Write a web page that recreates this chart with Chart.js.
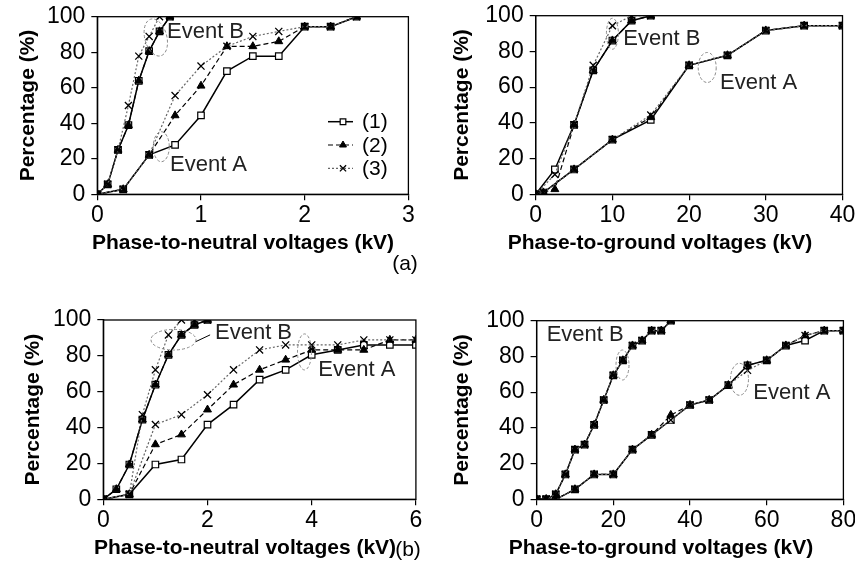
<!DOCTYPE html>
<html>
<head>
<meta charset="UTF-8">
<title>Percentage vs voltages</title>
<script src="https://cdn.jsdelivr.net/npm/chart.js"></script>
<style>
  body { margin: 0; background: #fff; }
  #wrap { position: relative; width: 855px; height: 584px; overflow: hidden;
          font-family: "Liberation Sans", Arial, sans-serif; }
  canvas { position: absolute; left: 0; top: 0; }
  .tag { position: absolute; font-size: 21px; transform: translate(-50%, -50%); }
</style>
</head>
<body>
<div id="wrap">
  <canvas id="pA1" width="855" height="584"></canvas>
  <canvas id="pA2" width="855" height="584"></canvas>
  <canvas id="pB1" width="855" height="584"></canvas>
  <canvas id="pB2" width="855" height="584"></canvas>
  <div class="tag" style="left:405px; top:263px">(a)</div>
  <div class="tag" style="left:408px; top:549px">(b)</div>
</div>

<script>
  // ---- (a) phase-to-neutral ----
  const a1EvB_x = [0, 0.1, 0.2, 0.3, 0.4, 0.5, 0.6, 0.7];
  const a1EvB_1 = [0, 5.6, 25, 38.9, 63.9, 80.6, 91.7, 100];
  const a1EvB_2 = [0, 5.6, 25, 38.9, 63.9, 80.6, 91.7, 100];
  const a1EvB_3 = [0, 5.6, 25, 50, 77.8, 88.9, 100, 100];
  const a1EvA_x = [0, 0.25, 0.5, 0.75, 1, 1.25, 1.5, 1.75, 2, 2.25, 2.5];
  const a1EvA_1 = [0, 2.8, 22.2, 27.8, 44.4, 69.4, 77.8, 77.8, 94.4, 94.4, 100];
  const a1EvA_2 = [0, 2.8, 22.2, 44.4, 61.1, 83.3, 83.3, 86.1, 94.4, 94.4, 100];
  const a1EvA_3 = [0, 2.8, 22.2, 55.6, 72.2, 83.3, 88.9, 91.7, 94.4, 94.4, 100];

  // ---- (a) phase-to-ground ----
  const a2EvB_x = [0, 2.5, 5, 7.5, 10, 12.5, 15];
  const a2EvB_1 = [0, 13.9, 38.9, 69.4, 86.1, 97.2, 100];
  const a2EvB_2 = [0, 2.8, 38.9, 69.4, 86.1, 97.2, 100];
  const a2EvB_3 = [0, 11.1, 38.9, 72.2, 94.4, 100, 100];
  const a2EvA_x = [0, 1, 5, 10, 15, 20, 25, 30, 35, 40];
  const a2EvA_1 = [0, 1, 13.9, 30.6, 41.7, 72.2, 77.8, 91.7, 94.4, 94.4];
  const a2EvA_2 = [0, 1, 13.9, 30.6, 43.1, 72.2, 77.8, 91.7, 94.4, 94.4];
  const a2EvA_3 = [0, 1, 13.9, 30.6, 44.4, 72.2, 77.8, 91.7, 94.4, 94.4];

  // ---- (b) phase-to-neutral ----
  const b1EvB_x = [0, 0.25, 0.5, 0.75, 1, 1.25, 1.5, 1.75, 2];
  const b1EvB_1 = [0, 5.6, 19.4, 44.4, 63.9, 80.6, 91.7, 97.2, 100];
  const b1EvB_2 = [0, 5.6, 19.4, 44.4, 63.9, 80.6, 91.7, 97.2, 100];
  const b1EvB3_x = [0, 0.5, 0.75, 1, 1.25, 1.5, 1.75, 2];
  const b1EvB_3 = [0, 2.8, 47.2, 72.2, 91.7, 100, 100, 100];
  const b1EvA_x = [0, 0.5, 1, 1.5, 2, 2.5, 3, 3.5, 4, 4.5, 5, 5.5, 6];
  const b1EvA_1 = [0, 2.8, 19.4, 22.2, 41.7, 52.8, 66.7, 72.2, 80.6, 83.3, 86.1, 86.1, 86.1];
  const b1EvA_2 = [0, 2.8, 30.6, 36.1, 50, 63.9, 72.2, 77.8, 83.3, 83.3, 83.3, 88.9, 88.9];
  const b1EvA_3 = [0, 2.8, 41.7, 47.2, 58.3, 72.2, 83.3, 86.1, 86.1, 86.1, 88.9, 88.9, 88.9];

  // ---- (b) phase-to-ground ----
  const b2EvB_x = [0, 2.5, 5, 7.5, 10, 12.5, 15, 17.5, 20, 22.5, 25, 27.5, 30, 32.5, 35];
  const b2EvB_1 = [0, 0, 2.8, 13.9, 27.8, 30.6, 41.7, 55.6, 69.4, 77.8, 86.1, 88.9, 94.4, 94.4, 100];
  const b2EvB_2 = [0, 0, 2.8, 13.9, 27.8, 30.6, 41.7, 55.6, 69.4, 77.8, 86.1, 88.9, 94.4, 94.4, 100];
  const b2EvB_3 = [0, 0, 2.8, 13.9, 27.8, 30.6, 41.7, 55.6, 69.4, 77.8, 86.1, 88.9, 94.4, 94.4, 100];
  const b2EvA_x = [0, 2.5, 5, 10, 15, 20, 25, 30, 35, 40, 45, 50, 55, 60, 65, 70, 75, 80];
  const b2EvA_1 = [0, 0, 0, 5.6, 13.9, 13.9, 27.8, 36.1, 44.4, 52.8, 55.6, 63.9, 75, 77.8, 86.1, 88.9, 94.4, 94.4];
  const b2EvA_2 = [0, 0, 0, 5.6, 13.9, 13.9, 27.8, 36.1, 47.2, 52.8, 55.6, 63.9, 75, 77.8, 86.1, 91.7, 94.4, 94.4];
  const b2EvA_3 = [0, 0, 0, 5.6, 13.9, 13.9, 27.8, 36.1, 44.4, 52.8, 55.6, 63.9, 72.2, 77.8, 86.1, 91.7, 94.4, 94.4];

  const seriesNames = ['(1)', '(2)', '(3)'];
  const yTicks = [0, 20, 40, 60, 80, 100];

  Chart.defaults.font.family = '"Liberation Sans", Arial, sans-serif';
  Chart.defaults.color = '#000';
  Chart.defaults.animation = false;

  const look = [
    { borderColor: '#000', borderWidth: 1.5, borderDash: [], pointStyle: 'rect', pointRadius: 4.6,
      pointBackgroundColor: '#fff', pointBorderColor: '#000', pointBorderWidth: 1.2, order: 3 },
    { borderColor: '#000', borderWidth: 1.2, borderDash: [5, 3], pointStyle: 'triangle', pointRadius: 4.6,
      pointBackgroundColor: '#000', pointBorderColor: '#000', pointBorderWidth: 1, order: 2 },
    { borderColor: '#666', borderWidth: 1.2, borderDash: [2, 2], pointStyle: 'crossRot', pointRadius: 5,
      pointBackgroundColor: '#000', pointBorderColor: '#000', pointBorderWidth: 1.3, order: 1 }
  ];

  function ds(xs, ys, k) {
    return Object.assign({
      label: seriesNames[k],
      data: xs.map((x, i) => ({ x: x, y: ys[i] })),
      tension: 0, fill: false
    }, look[k]);
  }

  // frame, dashed rings, event labels, x title, legend
  function decor(extra) {
    return {
      id: 'decor',
      afterDatasetsDraw(chart) {
        const { ctx, chartArea: a, scales: { x, y } } = chart;
        ctx.save();
        ctx.strokeStyle = '#000';
        ctx.lineWidth = 1.3;
        ctx.strokeRect(a.left, a.top, a.right - a.left, a.bottom - a.top);

        ctx.strokeStyle = '#8a8a8a';
        ctx.lineWidth = 1;
        ctx.setLineDash([3, 2]);
        extra.rings.forEach(r => {
          ctx.beginPath();
          ctx.ellipse(x.getPixelForValue(r.x), y.getPixelForValue(r.y), r.rx, r.ry, r.rot * Math.PI / 180, 0, Math.PI * 2);
          ctx.stroke();
        });
        ctx.setLineDash([]);
        ctx.strokeStyle = '#000';
        (extra.links || []).forEach(l => {
          ctx.beginPath();
          ctx.moveTo(x.getPixelForValue(l[0]), y.getPixelForValue(l[1]));
          ctx.lineTo(x.getPixelForValue(l[2]), y.getPixelForValue(l[3]));
          ctx.stroke();
        });

        ctx.fillStyle = '#222';
        ctx.font = '22px "Liberation Sans", Arial, sans-serif';
        ctx.textBaseline = 'middle';
        ctx.textAlign = 'left';
        extra.notes.forEach(n => ctx.fillText(n.text, x.getPixelForValue(n.x), y.getPixelForValue(n.y)));

        // x-axis title sits a bit left of the plot centre in the original
        ctx.fillStyle = '#000';
        ctx.font = 'bold 21px "Liberation Sans", Arial, sans-serif';
        ctx.textAlign = 'center';
        ctx.fillText(extra.xTitle.text, extra.xTitle.cx, extra.xTitle.cy);
        ctx.textAlign = 'left';

        if (extra.legend) {
          const L = extra.legend;
          ctx.font = '21px "Liberation Sans", Arial, sans-serif';
          seriesNames.forEach((name, k) => {
            const py = L.top + k * L.gap;
            const st = look[k];
            ctx.strokeStyle = st.borderColor;
            ctx.lineWidth = st.borderWidth;
            ctx.setLineDash(st.borderDash);
            ctx.beginPath();
            ctx.moveTo(L.left, py);
            ctx.lineTo(L.left + 25, py);
            ctx.stroke();
            ctx.setLineDash([]);
            ctx.strokeStyle = st.pointBorderColor;
            ctx.fillStyle = st.pointBackgroundColor;
            ctx.lineWidth = st.pointBorderWidth;
            Chart.helpers.drawPoint(ctx, { pointStyle: st.pointStyle, radius: st.pointRadius - 0.6, borderWidth: st.pointBorderWidth }, L.left + 15, py);
            ctx.fillStyle = '#000';
            ctx.fillText(name, L.left + 34, py + 1);
          });
        }
        ctx.restore();
      }
    };
  }

  function panel(id, datasets, area, xMax, xStep, titleX, titleY, extra) {
    const half = 21 * 1.2 / 2;
    const yW = area.l - (titleX - half);
    const xH = titleY + half - area.b;
    const noPad = s => { s.paddingLeft = 0; s.paddingRight = 0; s.paddingTop = 0; s.paddingBottom = 0; };
    new Chart(document.getElementById(id), {
      type: 'line',
      data: { datasets: datasets },
      options: {
        responsive: false,
        devicePixelRatio: 1,
        layout: { padding: { left: titleX - half, top: area.t, right: 855 - area.r, bottom: 584 - titleY - half } },
        plugins: { legend: { display: false }, tooltip: { enabled: false } },
        scales: {
          x: {
            type: 'linear', min: 0, max: xMax,
            ticks: { stepSize: xStep, font: { size: 23 }, padding: 2, color: '#000' },
            grid: { drawOnChartArea: false, tickLength: 6, color: '#000', lineWidth: 1.2 },
            border: { color: '#000', width: 1.3 },
            afterFit: s => { s.height = xH; noPad(s); }
          },
          y: {
            min: 0, max: 100,
            afterBuildTicks: s => { s.ticks = yTicks.map(v => ({ value: v })); },
            ticks: { font: { size: 23 }, padding: 6, color: '#000' },
            grid: { drawOnChartArea: false, tickLength: 6, color: '#000', lineWidth: 1.2 },
            border: { color: '#000', width: 1.3 },
            title: { display: true, text: 'Percentage (%)', font: { size: 21, weight: 'bold' }, padding: 0, color: '#000' },
            afterFit: s => { s.width = yW; noPad(s); }
          }
        }
      },
      plugins: [decor(extra)]
    });
  }

  panel('pA1', [
      ds(a1EvB_x, a1EvB_1, 0), ds(a1EvB_x, a1EvB_2, 1), ds(a1EvB_x, a1EvB_3, 2),
      ds(a1EvA_x, a1EvA_1, 0), ds(a1EvA_x, a1EvA_2, 1), ds(a1EvA_x, a1EvA_3, 2)
    ],
    { l: 97.3, t: 16.7, r: 408.4, b: 194.3 }, 3, 1, 28, 243,
    {
      xTitle: { text: 'Phase-to-neutral voltages (kV)', cx: 243, cy: 243 },
      rings: [{ x: 0.564, y: 88.3, rx: 11, ry: 19, rot: -15 }, { x: 0.617, y: 26.8, rx: 8, ry: 15, rot: 0 }],
      notes: [{ text: 'Event B', x: 0.672, y: 91.7 }, { text: 'Event A', x: 0.701, y: 16.5 }],
      legend: { left: 328, top: 121.7, gap: 23.3 }
    });

  panel('pA2', [
      ds(a2EvB_x, a2EvB_1, 0), ds(a2EvB_x, a2EvB_2, 1), ds(a2EvB_x, a2EvB_3, 2),
      ds(a2EvA_x, a2EvA_1, 0), ds(a2EvA_x, a2EvA_2, 1), ds(a2EvA_x, a2EvA_3, 2)
    ],
    { l: 535.7, t: 15.7, r: 842.5, b: 194.3 }, 40, 10, 462, 243,
    {
      xTitle: { text: 'Phase-to-ground voltages (kV)', cx: 660, cy: 243 },
      rings: [{ x: 10.0, y: 89.9, rx: 6, ry: 15.5, rot: 0 }, { x: 22.36, y: 71, rx: 9, ry: 15, rot: 0 }],
      notes: [{ text: 'Event B', x: 11.42, y: 87 }, { text: 'Event A', x: 24.03, y: 62.2 }]
    });

  panel('pB1', [
      ds(b1EvB_x, b1EvB_1, 0), ds(b1EvB_x, b1EvB_2, 1), ds(b1EvB3_x, b1EvB_3, 2),
      ds(b1EvA_x, b1EvA_1, 0), ds(b1EvA_x, b1EvA_2, 1), ds(b1EvA_x, b1EvA_3, 2)
    ],
    { l: 103.3, t: 320, r: 415.9, b: 499.3 }, 6, 2, 33, 548,
    {
      xTitle: { text: 'Phase-to-neutral voltages (kV)', cx: 245, cy: 548 },
      rings: [{ x: 1.347, y: 89, rx: 22.5, ry: 10.3, rot: 0 }, { x: 3.862, y: 82.2, rx: 7, ry: 18, rot: 0 }],
      links: [[1.78, 88.0, 2.05, 91.7]],
      notes: [{ text: 'Event B', x: 2.144, y: 92.6 }, { text: 'Event A', x: 4.127, y: 72.1 }]
    });

  panel('pB2', [
      ds(b2EvB_x, b2EvB_1, 0), ds(b2EvB_x, b2EvB_2, 1), ds(b2EvB_x, b2EvB_3, 2),
      ds(b2EvA_x, b2EvA_1, 0), ds(b2EvA_x, b2EvA_2, 1), ds(b2EvA_x, b2EvA_3, 2)
    ],
    { l: 536.6, t: 320.7, r: 843.4, b: 499.3 }, 80, 20, 462, 548,
    {
      xTitle: { text: 'Phase-to-ground voltages (kV)', cx: 661, cy: 548 },
      rings: [{ x: 22.4, y: 75.2, rx: 6.5, ry: 15, rot: 0 }, { x: 52.9, y: 67.2, rx: 9, ry: 16, rot: 0 }],
      notes: [{ text: 'Event B', x: 2.63, y: 92 }, { text: 'Event A', x: 56.5, y: 59.8 }]
    });
</script>
</body>
</html>
